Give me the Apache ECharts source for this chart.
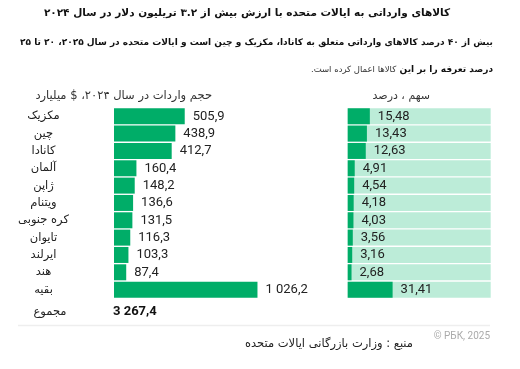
<!DOCTYPE html>
<html>
<head>
<meta charset="utf-8">
<script src="https://cdn.jsdelivr.net/npm/echarts@6/dist/echarts.min.js"></script>
<style>
html,body{margin:0;padding:0;background:#fff;}
#c{width:520px;height:369px;}
</style>
</head>
<body>
<div id="c"></div>
<script>
var categories = ['مکزیک','چین','کانادا','آلمان','ژاپن','ویتنام','کره جنوبی','تایوان','ایرلند','هند','بقیه'];
var importValues = [505.9, 438.9, 412.7, 160.4, 148.2, 136.6, 131.5, 116.3, 103.3, 87.4, 1026.2];
var shareValues = [15.48, 13.43, 12.63, 4.91, 4.54, 4.18, 4.03, 3.56, 3.16, 2.68, 31.41];
var totalLabel = 'مجموع';
var totalValue = 3267.4;

var titleText = 'کالاهای وارداتی به ایالات متحده با ارزش بیش از ۳.۲ تریلیون دلار در سال ۲۰۲۴';
var sub1 = 'بیش از ۴۰ درصد کالاهای وارداتی متعلق به کانادا، مکزیک و چین است و ایالات متحده در سال ۲۰۲۵، ۲۰ تا ۲۵';
var sub2Bold = 'درصد تعرفه را بر این';
var sub2Normal = 'کالاها اعمال کرده است.\u200F';
var header1 = 'حجم واردات در سال ۲۰۲۴، $ میلیارد';
var header2 = 'سهم ، درصد';
var sourceText = 'منبع : وزارت بازرگانی ایالات متحده';
var copyText = '© РБК, 2025';

function fmt(v, dec) {
  var s = v.toFixed(dec);
  var parts = s.split('.');
  var ip = parts[0].replace(/\B(?=(\d{3})+(?!\d))/g, ' ');
  return parts.length > 1 ? ip + ',' + parts[1] : ip;
}

var FA = '"DejaVu Sans", sans-serif';
var NUM = 'Roboto, "Noto Sans", sans-serif';
var DARK = '#00ad68';
var LIGHT = '#bcecd8';

var chart = echarts.init(document.getElementById('c'), null, {renderer: 'canvas'});
var top0 = 107.6, h = 190.7;
chart.setOption({
  animation: false,
  backgroundColor: '#fff',
  grid: [
    {left: 114, top: top0, width: 144, height: h},
    {left: 347.7, top: top0, width: 143, height: h}
  ],
  xAxis: [
    {gridIndex: 0, type: 'value', min: 0, max: 1030, show: false},
    {gridIndex: 1, type: 'value', min: 0, max: 100, show: false}
  ],
  yAxis: [
    {gridIndex: 0, type: 'category', data: categories, inverse: true,
     axisLine: {show: false}, axisTick: {show: false}, splitLine: {show: false},
     axisLabel: {margin: 70.5, align: 'center', fontFamily: FA, fontSize: 11.5, color: '#222'}},
    {gridIndex: 1, type: 'category', data: categories, inverse: true, show: false}
  ],
  series: [
    {type: 'bar', xAxisIndex: 0, yAxisIndex: 0, data: importValues, barWidth: 16,
     itemStyle: {color: DARK},
     label: {show: true, position: 'right', distance: 8, fontFamily: NUM, fontSize: 13, color: '#222',
       formatter: function (p) { return fmt(p.value, 1); }}},
    {type: 'bar', xAxisIndex: 1, yAxisIndex: 1, data: shareValues, barWidth: 16,
     itemStyle: {color: DARK},
     showBackground: true, backgroundStyle: {color: LIGHT},
     label: {show: true, position: 'right', distance: 8, fontFamily: NUM, fontSize: 13, color: '#222',
       formatter: function (p) { return fmt(p.value, 2); }}}
  ],
  graphic: [
    {type: 'text', x: 247, y: 13, style: {text: titleText, font: 'bold 10.5px ' + FA, fill: '#111', textAlign: 'center', textVerticalAlign: 'middle'}},
    {type: 'text', x: 493, y: 43, style: {text: sub1, font: 'bold 9px ' + FA, fill: '#111', textAlign: 'right', textVerticalAlign: 'middle'}},
    {type: 'text', x: 493, y: 70, style: {
      text: '{n|' + sub2Normal + '} {b|' + sub2Bold + '}',
      textAlign: 'right', textVerticalAlign: 'middle',
      rich: {n: {font: '8.5px ' + FA, fill: '#333'}, b: {font: 'bold 9px ' + FA, fill: '#111'}}}},
    {type: 'text', x: 212, y: 96, style: {text: header1, font: '11.5px ' + FA, fill: '#333', textAlign: 'right', textVerticalAlign: 'middle'}},
    {type: 'text', x: 430, y: 96, style: {text: header2, font: '11px ' + FA, fill: '#333', textAlign: 'right', textVerticalAlign: 'middle'}},
    {type: 'text', x: 50, y: 312, style: {text: totalLabel, font: '11.5px ' + FA, fill: '#222', textAlign: 'center', textVerticalAlign: 'middle'}},
    {type: 'text', x: 113, y: 312, style: {text: fmt(totalValue, 1), font: 'bold 13px ' + NUM, fill: '#111', textAlign: 'left', textVerticalAlign: 'middle'}},
    {type: 'line', shape: {x1: 18, y1: 325.5, x2: 490, y2: 325.5}, style: {stroke: '#eeeeee', lineWidth: 1.5}},
    {type: 'text', x: 490, y: 336, style: {text: copyText, font: '10px ' + NUM, fill: '#aaa', textAlign: 'right', textVerticalAlign: 'middle'}},
    {type: 'text', x: 413, y: 344, style: {text: sourceText, font: '11.5px ' + FA, fill: '#222', textAlign: 'right', textVerticalAlign: 'middle'}}
  ]
});
</script>
</body>
</html>
